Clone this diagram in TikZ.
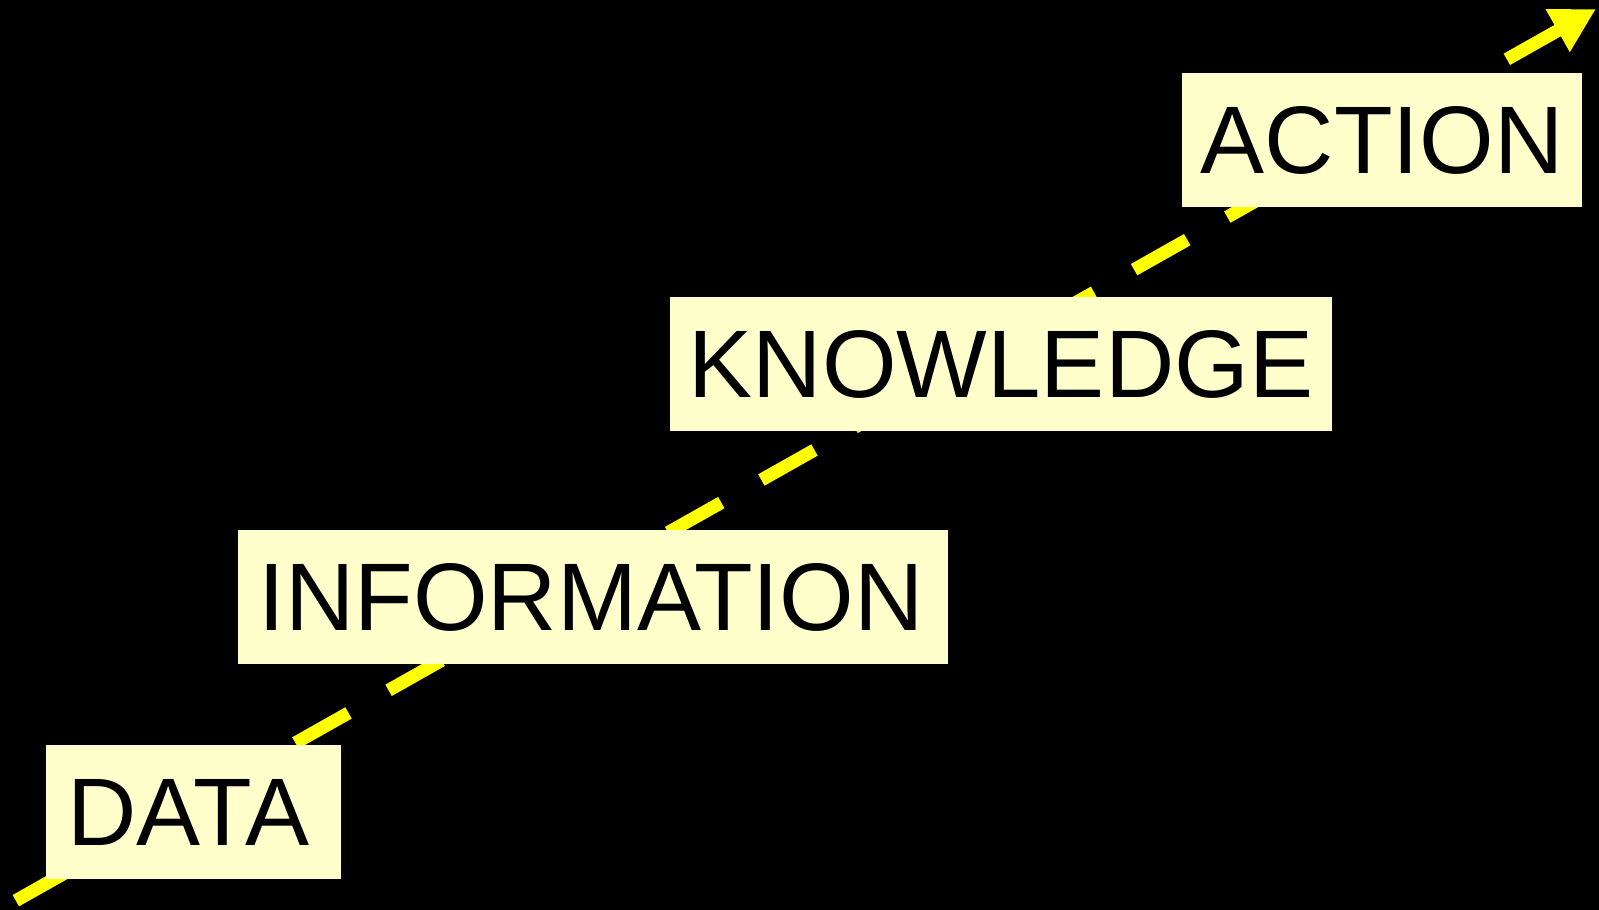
\documentclass[tikz,border=0pt]{standalone}
\usepackage{fontspec}
\setmainfont{Liberation Sans}
\usetikzlibrary{arrows.meta}
\definecolor{boxfill}{HTML}{FFFFCC}
\definecolor{arrowyellow}{HTML}{FFFF00}
\tikzset{
  stagebox/.style={fill=boxfill, draw=none, inner sep=0pt, text=black,
    font=\fontsize{96}{110}\selectfont, minimum height=134pt},
  flowarrow/.style={line width=13pt, draw=arrowyellow, line cap=butt,
    dash pattern=on 61pt off 46pt, dash phase=88.8pt,
    -{Triangle[length=44pt,width=46pt,fill=arrowyellow]}}
}
\begin{document}
\begin{tikzpicture}[x=1pt,y=-1pt]
\fill[black] (0,0) rectangle (1599,910);
\useasboundingbox (0,0) rectangle (1599,910);
\clip (0,0) rectangle (1599,910);
\coordinate (start) at (0,909.6);
\coordinate (tip) at (1596,9);
\draw[flowarrow] (start) -- (tip);
\node[stagebox, minimum width=295pt] (data) at (193.5,812) {\hspace*{-10pt}DATA};
\node[stagebox, minimum width=710pt] (information) at (593,597) {\hspace*{-4pt}INFORMATION};
\node[stagebox, minimum width=662pt] (knowledge) at (1001,364.25) {KNOWLEDGE};
\node[stagebox, minimum width=400pt] (action) at (1382,140.25) {ACTION};
\end{tikzpicture}
\end{document}
